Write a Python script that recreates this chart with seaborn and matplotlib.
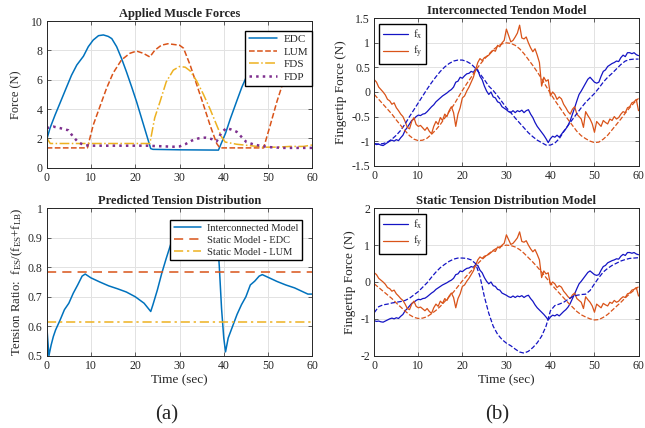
import numpy as np
import pandas as pd
import matplotlib
matplotlib.use("Agg")
import matplotlib.pyplot as plt
from matplotlib.ticker import FuncFormatter
import seaborn as sns

# ==================== data ====================
# (a) applied muscle forces
t_edc = [0, 0.75, 1.9, 3, 4.5, 5.6, 6.8, 8.3, 9.4, 10.5, 11.7, 12.8, 13.9, 14.7, 15.8, 16.9,
         18, 19.2, 20.3, 21.4, 22.6, 23.5, 24, 30, 38.8, 40.4, 41.5, 43, 44.1, 46, 48, 50,
         52, 54, 56, 57.2, 58.7, 60]
edc = [1.9, 2.7, 3.6, 4.4, 5.5, 6.3, 7.0, 7.6, 8.25, 8.7, 9.0, 9.05, 8.95, 8.8, 8.25, 7.45,
       6.55, 5.5, 4.5, 3.4, 2.2, 1.3, 1.25, 1.22, 1.2, 2.35, 3.35, 4.6, 5.5, 6.8, 7.9, 8.6,
       8.9, 8.9, 8.5, 7.55, 5.95, 5.75]
t_lum = [0, 9.2, 10.5, 12, 13.5, 15, 16.9, 18.8, 20.3, 21.8, 23.3, 24.4, 25.9, 27.4, 30, 30.9,
         32.4, 33.9, 35.4, 36.9, 38.4, 39.1, 49, 50.5, 52, 53.5, 55, 56, 57.2, 58.5, 60]
lum = [1.35, 1.35, 2.9, 4.15, 5.4, 6.45, 7.35, 7.8, 7.95, 7.8, 7.55, 8.0, 8.35, 8.45, 8.35, 8.15,
       7.0, 5.65, 4.3, 2.9, 1.65, 1.35, 1.35, 2.9, 4.5, 5.9, 6.9, 7.4, 7.7, 7.78, 7.8]
t_fds = [0, 0.8, 2, 23.3, 24.4, 25.6, 27, 28.6, 30, 31.3, 32.4, 33.9, 35.4, 36.9, 38.4, 39.5,
         40.3, 42.9, 46, 49, 52, 55, 58, 60]
fds = [2.05, 1.65, 1.65, 1.65, 3.4, 4.5, 5.85, 6.65, 6.9, 6.85, 6.6, 5.9, 5.0, 4.0, 2.9, 2.1,
       1.75, 1.6, 1.5, 1.4, 1.4, 1.45, 1.45, 1.55]
t_fdp = [0, 1.5, 3, 4.9, 6, 7.1, 8.3, 9.8, 22.6, 28.6, 30, 31.3, 32.8, 34.3, 35.8, 37.3, 38.4,
         39.5, 40.6, 41.7, 42.9, 44, 45.1, 46.6, 48.1, 50.4, 53.4, 56.4, 60]
fdp = [2.7, 2.8, 2.7, 2.55, 2.1, 1.75, 1.55, 1.5, 1.5, 1.43, 1.45, 1.6, 1.85, 2.0, 2.05, 1.95, 1.8,
       2.4, 2.7, 2.6, 2.45, 2.1, 1.75, 1.6, 1.5, 1.4, 1.35, 1.35, 1.35]

# (a) predicted tension ratio
t_ratio = [0, 0.5, 1, 1.5, 2, 3, 4, 5, 6, 7, 8, 8.7, 10, 12, 14, 16, 18, 20, 22, 23.5, 24, 25, 26,
           27, 28, 29, 29.5, 30, 32, 35, 38, 38.5, 39, 39.5, 40, 40.4, 41, 42, 43, 44, 45, 46, 47,
           48, 48.7, 50, 52, 54, 56, 58, 59, 60]
ratio = [0.605, 0.5, 0.536, 0.565, 0.587, 0.62, 0.656, 0.678, 0.712, 0.74, 0.77, 0.777, 0.764,
         0.75, 0.737, 0.727, 0.716, 0.70, 0.678, 0.65, 0.673, 0.723, 0.78, 0.83, 0.877, 0.917,
         0.935, 0.945, 0.95, 0.95, 0.945, 0.92, 0.8, 0.66, 0.56, 0.513, 0.56, 0.6, 0.64, 0.673,
         0.70, 0.74, 0.753, 0.77, 0.775, 0.766, 0.752, 0.74, 0.73, 0.716, 0.709, 0.709]
ratio_static_edc = 0.785
ratio_static_lum = 0.615

# (b) measured fingertip forces, every 0.5 s
t_meas = np.arange(0, 60.01, 0.5)
fx_meas = [-1.05, -1.07, -1.06, -1.08, -1.09, -1.06, -1.03, -1.0, -0.98, -1.0, -0.97, -0.99,
           -0.93, -0.88, -0.78, -0.72, -0.65, -0.58, -0.55, -0.5, -0.47, -0.48, -0.45, -0.44,
           -0.4, -0.35, -0.3, -0.26, -0.2, -0.16, -0.12, -0.08, -0.05, -0.02, 0.02, 0.05,
           0.1, 0.2, 0.22, 0.3, 0.28, 0.33, 0.37, 0.38, 0.42, 0.4, 0.47, 0.45,
           0.32, 0.25, 0.12, 0.02, -0.05, 0.0, -0.1, -0.12, -0.2, -0.22, -0.3, -0.33,
           -0.36, -0.4, -0.42, -0.38, -0.42, -0.38, -0.4, -0.37, -0.42, -0.38, -0.36, -0.45,
           -0.52, -0.62, -0.7, -0.76, -0.82, -0.88, -0.95, -1.03, -0.95, -0.9, -0.92, -0.88,
           -0.92, -0.86, -0.8, -0.75, -0.68, -0.58, -0.45, -0.32, -0.18, -0.05, 0.02, 0.1,
           0.18, 0.26, 0.3, 0.25, 0.2, 0.18, 0.2, 0.32, 0.42, 0.45, 0.52, 0.55,
           0.58, 0.6, 0.63, 0.62, 0.7, 0.75, 0.72, 0.8, 0.8, 0.78, 0.8, 0.76, 0.74]
fy_meas = [0.25, 0.2, 0.1, 0.05, 0.0, -0.06, -0.15, -0.18, -0.25, -0.22, -0.32, -0.38,
           -0.45, -0.5, -0.6, -0.72, -0.75, -0.6, -0.52, -0.66, -0.7, -0.68, -0.73, -0.78,
           -0.72, -0.8, -0.85, -0.7, -0.6, -0.66, -0.52, -0.58, -0.45, -0.5, -0.38, -0.3,
           -0.42, -0.7, -0.45, -0.32, -0.12, -0.08, 0.02, 0.1, 0.2, 0.3, 0.45, 0.6,
           0.68, 0.64, 0.7, 0.72, 0.75, 0.8, 0.85, 0.83, 0.95, 0.92, 1.0, 1.05,
           1.28, 1.15, 1.02, 1.05, 1.12, 1.2, 1.36, 1.1, 1.08, 1.12, 1.0, 0.9,
           0.82, 0.88, 0.75, 0.6, 0.12, 0.3, 0.22, 0.25, -0.08, 0.0, -0.05, -0.15,
           -0.1, -0.14, -0.25, -0.32, -0.4, -0.45, -0.35, -0.3, -0.45, -0.5, -0.55, -0.72,
           -0.4, -0.48, -0.55, -0.65, -0.82, -0.6, -0.65, -0.7, -0.58, -0.62, -0.65, -0.55,
           -0.58, -0.5, -0.55, -0.52, -0.45, -0.4, -0.42, -0.32, -0.3, -0.22, -0.2, -0.15, -0.38]

# (b) model predictions, every 1 s
t_pred = np.arange(0, 61, 1)
fx_inter = [-1.05, -1.06, -1.05, -1.02, -0.96, -0.88, -0.78, -0.65, -0.5, -0.36, -0.22,
            -0.08, 0.06, 0.19, 0.31, 0.42, 0.51, 0.58, 0.63, 0.65, 0.65, 0.62, 0.57, 0.48,
            0.37, 0.25, 0.12, 0.03, -0.08, -0.2, -0.32, -0.42, -0.53, -0.63, -0.73, -0.83,
            -0.91, -0.98, -1.03, -1.08, -1.08, -1.04, -0.95, -0.81, -0.68, -0.56, -0.44,
            -0.32, -0.21, -0.12, -0.03, 0.08, 0.2, 0.3, 0.38, 0.47, 0.56, 0.63, 0.66, 0.67, 0.67]
fx_static = [-0.83, -0.67, -0.62, -0.6, -0.57, -0.55, -0.53, -0.5, -0.44, -0.35, -0.26,
             -0.14, -0.02, 0.13, 0.27, 0.39, 0.48, 0.56, 0.62, 0.65, 0.65, 0.64, 0.6, 0.5,
             0.15, -0.4, -0.85, -1.2, -1.42, -1.56, -1.66, -1.73, -1.82, -1.9, -1.93, -1.88,
             -1.78, -1.65, -1.47, -1.2, -0.78, -0.64, -0.6, -0.55, -0.47, -0.4, -0.36, -0.34,
             -0.33, -0.23, -0.05, 0.12, 0.27, 0.37, 0.45, 0.51, 0.57, 0.61, 0.64, 0.65, 0.66]
fy_pred = [-0.05, -0.15, -0.25, -0.35, -0.45, -0.57, -0.68, -0.79, -0.89, -0.96, -0.99,
           -0.98, -0.94, -0.86, -0.77, -0.66, -0.53, -0.4, -0.27, -0.12, 0.03, 0.17, 0.3,
           0.44, 0.56, 0.67, 0.77, 0.86, 0.93, 0.98, 1.0, 0.99, 0.95, 0.88, 0.78, 0.66,
           0.54, 0.41, 0.27, 0.12, -0.03, -0.17, -0.3, -0.43, -0.56, -0.68, -0.8, -0.89,
           -0.95, -1.0, -1.03, -1.02, -0.96, -0.88, -0.77, -0.66, -0.55, -0.43, -0.32, -0.22, -0.13]

# ==================== style ====================
sns.set_style("ticks")
plt.rcParams['font.family'] = ['Liberation Serif', 'DejaVu Serif']
plt.rcParams['mathtext.fontset'] = 'custom'
plt.rcParams['mathtext.rm'] = 'Liberation Serif'
plt.rcParams['mathtext.it'] = 'Liberation Serif:italic'
plt.rcParams['axes.unicode_minus'] = False

C_EDC, C_LUM, C_FDS, C_FDP = '#0072BD', '#D95319', '#EDB120', '#7E2F8E'
C_FX, C_FY = '#1414C4', '#D95319'
AX_COL = '#262626'

W, H = 645, 428
fig = plt.figure(figsize=(W / 100, H / 100), dpi=100)


def box(l, t, r, b):
    return [l / W, 1 - b / H, (r - l) / W, (b - t) / H]


ax1 = fig.add_axes(box(46.7, 21, 312.3, 167.7))
ax2 = fig.add_axes(box(46.7, 208.3, 312.3, 355.7))
ax3 = fig.add_axes(box(374.3, 18.3, 638.5, 165.7))
ax4 = fig.add_axes(box(374.3, 208.3, 638.5, 355.7))

fmt = FuncFormatter(lambda v, p: "%g" % round(v, 3))
for ax in (ax1, ax2, ax3, ax4):
    ax.grid(True, color='#E2E2E2', lw=0.7)
    ax.set_axisbelow(True)
    for s in ax.spines.values():
        s.set_color(AX_COL)
        s.set_linewidth(0.7)
    ax.tick_params(direction='in', top=True, right=True, length=3, width=0.5,
                   colors=AX_COL, labelsize=8.5, pad=3)
    ax.set_xlim(0, 60)
    ax.set_xticks(range(0, 61, 10))
    ax.xaxis.set_major_formatter(fmt)
    ax.yaxis.set_major_formatter(fmt)

# ---------- applied muscle forces ----------
sns.lineplot(x=t_edc, y=edc, ax=ax1, color=C_EDC, lw=1.1, label='EDC', errorbar=None)
sns.lineplot(x=t_lum, y=lum, ax=ax1, color=C_LUM, lw=1.1, linestyle='--', dashes=(6, 4),
             label='LUM', errorbar=None)
sns.lineplot(x=t_fds, y=fds, ax=ax1, color=C_FDS, lw=1.1, linestyle='-.', dashes=(6, 2.5, 1.5, 2.5),
             label='FDS', errorbar=None)
sns.lineplot(x=t_fdp, y=fdp, ax=ax1, color=C_FDP, lw=1.8, linestyle=':', dashes=(0.8, 0.9),
             label='FDP', errorbar=None)
ax1.set_ylim(0, 10)
ax1.set_yticks(range(0, 11, 2))
ax1.set_title('Applied Muscle Forces', fontsize=9, fontweight='bold', pad=3)
ax1.set_ylabel('Force (N)', fontsize=9, color=AX_COL, labelpad=6)
ax1.set_xlabel('')
ax1.legend(loc='upper right', bbox_to_anchor=(1.0, 0.935), borderaxespad=0, fontsize=8,
           frameon=True, fancybox=False, edgecolor='black', framealpha=1,
           handlelength=2.5, borderpad=0.35, labelspacing=0.25, handletextpad=0.6)

# ---------- tension distribution ----------
sns.lineplot(x=t_ratio, y=ratio, ax=ax2, color=C_EDC, lw=1.1, label='Interconnected Model',
             errorbar=None)
ax2.axhline(ratio_static_edc, color=C_LUM, lw=1.1, linestyle='--', dashes=(6, 4),
            label='Static Model - EDC')
ax2.axhline(ratio_static_lum, color=C_FDS, lw=1.1, linestyle='-.', dashes=(6, 2.5, 1.5, 2.5),
            label='Static Model - LUM')
ax2.set_ylim(0.5, 1)
ax2.set_yticks(np.arange(0.5, 1.01, 0.1))
ax2.set_title('Predicted Tension Distribution', fontsize=9, fontweight='bold', pad=3)
ax2.set_ylabel(r'Tension Ratio:  f$_{\rm ES}$/(f$_{\rm ES}$+f$_{\rm LB}$)', fontsize=9.2,
               color=AX_COL, labelpad=2)
ax2.set_xlabel('Time (sec)', fontsize=9.5, color=AX_COL, labelpad=2)
ax2.legend(loc='upper right', bbox_to_anchor=(0.962, 0.92), borderaxespad=0, fontsize=7.5,
           frameon=True, fancybox=False, edgecolor='black', framealpha=1,
           handlelength=2.6, borderpad=0.35, labelspacing=0.25, handletextpad=0.6)

# ---------- fingertip forces ----------
for ax, fx_model, title, lim, ticks in (
        (ax3, fx_inter, 'Interconnected Tendon Model', (-1.5, 1.5), np.arange(-1.5, 1.51, 0.5)),
        (ax4, fx_static, 'Static Tension Distribution Model', (-2, 2), np.arange(-2, 2.01, 1))):
    sns.lineplot(x=t_meas, y=fx_meas, ax=ax, color=C_FX, lw=0.9, label=r'f$_{\rm x}$',
                 errorbar=None)
    sns.lineplot(x=t_meas, y=fy_meas, ax=ax, color=C_FY, lw=0.9, label=r'f$_{\rm y}$',
                 errorbar=None)
    sns.lineplot(x=t_pred, y=fx_model, ax=ax, color=C_FX, lw=0.9, linestyle='--',
                 dashes=(7, 4), errorbar=None)
    sns.lineplot(x=t_pred, y=fy_pred, ax=ax, color=C_FY, lw=0.9, linestyle='--',
                 dashes=(7, 4), errorbar=None)
    ax.set_ylim(*lim)
    ax.set_yticks(ticks)
    ax.set_title(title, fontsize=9, fontweight='bold', pad=3)
    ax.set_ylabel('Fingertip Force (N)', fontsize=9.5, color=AX_COL, labelpad=3)
    ax.set_xlabel('')
    handles, labels = ax.get_legend_handles_labels()
    ax.legend(handles[:2], labels[:2], loc='upper left', bbox_to_anchor=(0.019, 0.96),
              borderaxespad=0, fontsize=8, frameon=True, fancybox=False,
              edgecolor='black', framealpha=1, handlelength=2.3, borderpad=0.3,
              labelspacing=0.3, handletextpad=0.4)

ax4.set_xlabel('Time (sec)', fontsize=9.5, color=AX_COL, labelpad=2)

fig.text(167 / W, 1 - 415 / H, '(a)', ha='center', va='center', fontsize=15)
fig.text(497 / W, 1 - 415 / H, '(b)', ha='center', va='center', fontsize=15)

fig.savefig('out.png', dpi=100)
